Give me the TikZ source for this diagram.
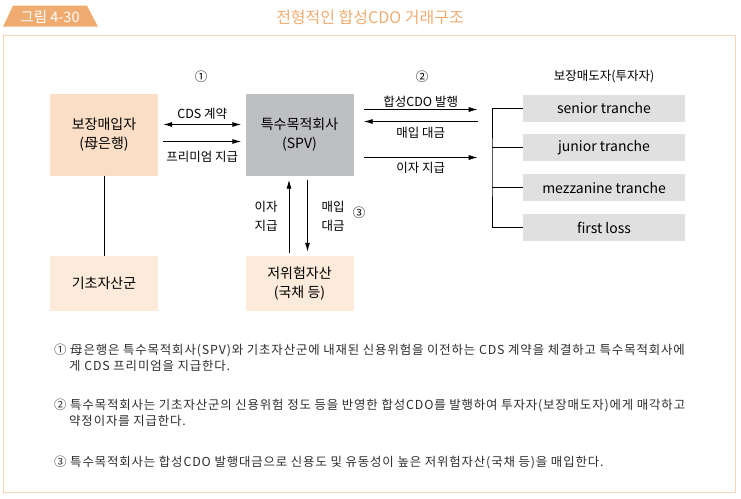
\documentclass[tikz,border=0pt]{standalone}
\usepackage{fontspec}
\setmainfont{Noto Sans CJK KR}
\newfontfamily\notefont{Noto Sans CJK KR}[LetterSpace=7]
\usetikzlibrary{positioning,arrows.meta}
\definecolor{tabcol}{RGB}{240,172,112}
\definecolor{framecol}{RGB}{246,214,180}
\definecolor{buyercol}{RGB}{250,222,197}
\definecolor{assetcol}{RGB}{252,235,218}
\definecolor{spvcol}{RGB}{190,191,194}
\definecolor{tranchecol}{RGB}{224,224,224}
\definecolor{notecol}{RGB}{45,45,45}

\begin{document}
\begin{tikzpicture}[x=1pt, y=-1pt, >={Latex[length=9pt,width=5pt]},
  box/.style={minimum width=108pt, align=center, inner sep=0pt, font=\fontsize{14}{19}\selectfont},
  tranche/.style={fill=tranchecol, minimum width=162pt, minimum height=27pt, inner sep=0pt, font=\fontsize{14}{16}\selectfont},
  lbl/.style={font=\fontsize{12.5}{19}\selectfont, inner sep=1pt, align=center},
  link/.style={line width=0.9pt},
  note/.style={font=\notefont\fontsize{12.4}{16}\selectfont, text=notecol, anchor=base west, inner sep=0pt}]
\useasboundingbox (0,0) rectangle (741,498);
\draw[framecol, line width=1.3pt] (3.3,35.7) rectangle (735.7,492.7);
\fill[tabcol] (3,26.7) -- (13,5.7) -- (87,5.7) -- (98,26.7) -- cycle;
\node[white, font=\fontsize{14.5}{16}\selectfont] (fig) at (50,16.5) {그림 4-30};
\node[text=tabcol, font=\fontsize{16}{18}\selectfont] (title) at (370,17) {전형적인 합성CDO 거래구조};

\node[box, fill=buyercol, minimum height=82pt] (buyer) at (104,134.5) {보장매입자\\(母은행)};
\node[box, fill=spvcol, minimum height=82pt] (spv) at (299.5,134.5) {특수목적회사\\(SPV)};
\node[box, fill=assetcol, minimum height=55pt] (pool) at (104,283.5) {기초자산군};
\node[box, fill=assetcol, minimum height=55pt] (safe) at (299.5,283.5) {저위험자산\\(국채 등)};

\node[lbl] (one) at (201,77) {①};
\node[lbl] (two) at (422,77) {②};
\node[lbl] (sellers) at (604,77) {보장매도자(투자자)};

\node[tranche] (senior) at (604,108) {senior tranche};
\node[tranche, below=12.5pt of senior] (junior) {junior tranche};
\node[tranche, below=12.5pt of junior] (mezz) {mezzanine tranche};
\node[tranche, below=12.5pt of mezz] (loss) {first loss};
\coordinate (bk) at (492,167);

\draw[link, <->] ([xshift=5pt,yshift=10pt]buyer.east) -- ([xshift=-4pt,yshift=10pt]spv.west)
  node[lbl, midway, above=4pt] (cds) {CDS 계약};
\draw[link, ->] ([xshift=5pt,yshift=-7pt]buyer.east) -- ([xshift=-4pt,yshift=-7pt]spv.west)
  node[lbl, midway, below=8pt] (premium) {프리미엄 지급};
\draw[link] (buyer) -- (pool);

\draw[link, ->] ([xshift=10pt,yshift=25pt]spv.east) -- ++(114,0)
  node[lbl, midway, above=1pt] (issue) {합성CDO 발행};
\draw[link, <-] ([xshift=10pt,yshift=13pt]spv.east) -- ++(114,0)
  node[lbl, midway, below=4pt] (price) {매입 대금};
\draw[link, ->] ([xshift=10pt,yshift=-23pt]spv.east) -- ++(114,0)
  node[lbl, midway, below=3pt] (coupon) {이자 지급};

\draw[link, ->] ([xshift=-10.5pt,yshift=3pt]safe.north) -- ([xshift=-10.5pt,yshift=-4pt]spv.south);
\draw[link, ->] ([xshift=8pt,yshift=-4pt]spv.south) -- ([xshift=8pt,yshift=4pt]safe.north);
\node[lbl] (interest) at (266,216) {이자\\지급};
\node[lbl] (purchase) at (333,216) {매입\\대금};
\node[lbl] (three) at (359,213) {③};

\draw[link] (senior.west) -| (bk) |- (loss.west);
\draw[link] (junior.west) -- (junior.west -| bk);
\draw[link] (mezz.west) -- (mezz.west -| bk);

\node[note] (note1a) at (54,354) {① 母은행은 특수목적회사(SPV)와 기초자산군에 내재된 신용위험을 이전하는 CDS 계약을 체결하고 특수목적회사에};
\node[note] (note1b) at (69,370) {게 CDS 프리미엄을 지급한다.};
\node[note] (note2a) at (54,409) {② 특수목적회사는 기초자산군의 신용위험 정도 등을 반영한 합성CDO를 발행하여 투자자(보장매도자)에게 매각하고};
\node[note] (note2b) at (69,425) {약정이자를 지급한다.};
\node[note] (note3) at (54,466) {③ 특수목적회사는 합성CDO 발행대금으로 신용도 및 유동성이 높은 저위험자산(국채 등)을 매입한다.};
\end{tikzpicture}
\end{document}
